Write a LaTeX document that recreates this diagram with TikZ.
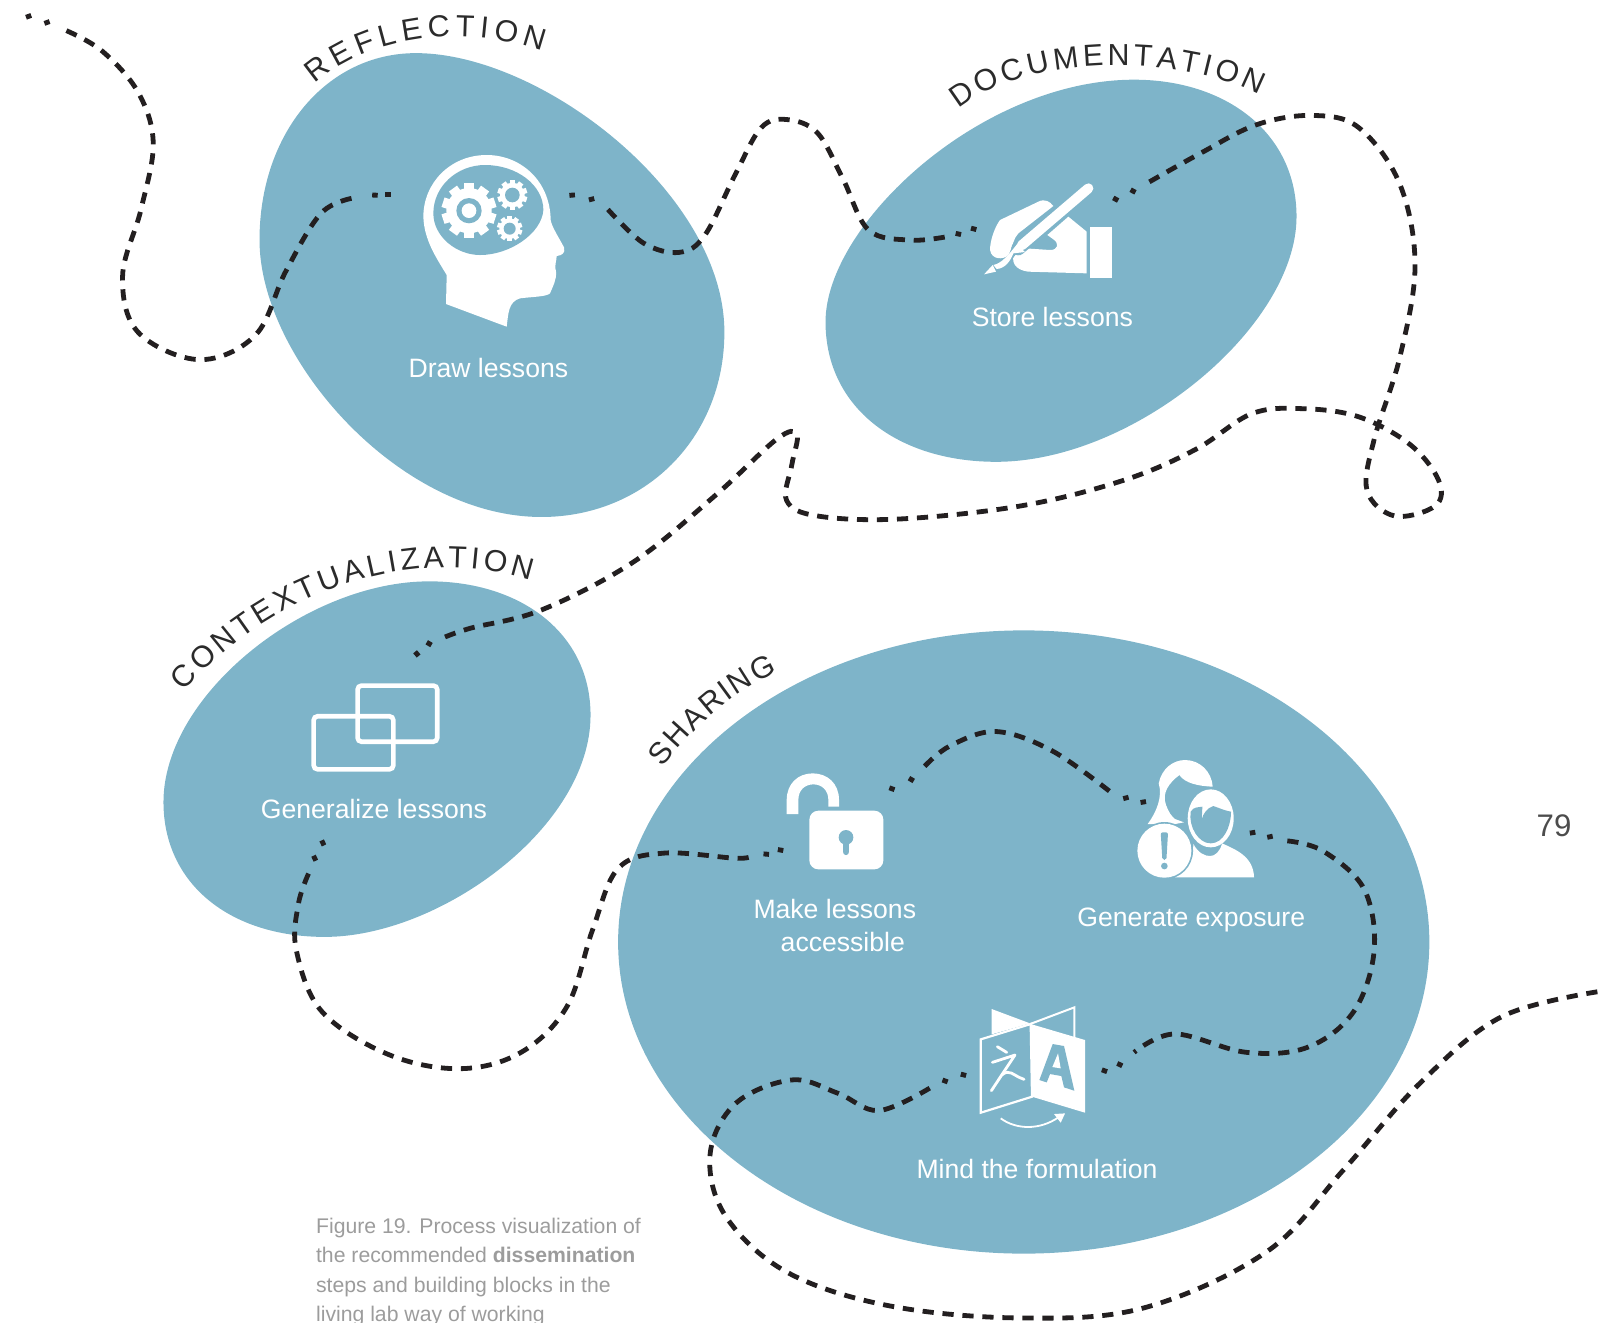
\documentclass[tikz,border=0pt]{standalone}
\usepackage{fontspec}
\setmainfont{Liberation Sans}
\usetikzlibrary{decorations.text,arrows.meta}
\definecolor{blobc}{HTML}{7EB4C9}
\definecolor{inkc}{HTML}{231F20}
\definecolor{capc}{HTML}{9C9C9C}
\definecolor{titlec}{HTML}{2B2B2B}
\newcommand\dotm[3]{\fill[inkc,shift={(#1,#2)},rotate=#3](-2.7,-2.4) rectangle (2.7,2.4);}
\newcommand\gearm[5]{%
 \foreach \a in {0,#5,...,179}{\fill[white,shift={(#1,#2)},rotate=\a](-#4,-#3) rectangle (#4,#3);}%
}
\newcommand\titlef{\fontsize{15.2pt}{18pt}\selectfont}
\tikzset{
 blob/.style={fill=blobc,draw=none},
 trail/.style={draw=inkc,line width=2.4pt,dash pattern=on 5.6pt off 4.4pt,smooth,tension=.6},
 lbl/.style={text=white,font=\fontsize{13.3pt}{16.3pt}\selectfont,align=center,inner sep=0pt},
 captext/.style={text=capc,font=\fontsize{10.6pt}{13pt}\selectfont,anchor=base west,inner sep=0pt},
 arctitle/.style={decorate,decoration={text along path,text={|\titlef\color{titlec}|#1},text align={fit to path}}},
 iconzoom/.style={x=0.16667pt,y=-0.16667pt},
}
\begin{document}
\begin{tikzpicture}[x=0.51084pt,y=-0.51084pt]
\useasboundingbox (0,0) rectangle (1568,1294);
% blobs
\fill[blob] (254,235) .. controls (254,130) and (320,52) .. (407,52) .. controls (530,52) and (709,190) .. (709,325) .. controls (709,430) and (630,506) .. (530,506) .. controls (390,506) and (254,350) .. (254,235) -- cycle;
\fill[blob] (808,315) .. controls (808,220) and (960,78) .. (1110,78) .. controls (1200,78) and (1269,130) .. (1269,212) .. controls (1269,320) and (1110,452) .. (975,452) .. controls (880,452) and (808,400) .. (808,315) -- cycle;
\fill[blob] (160,785) .. controls (160,680) and (300,569) .. (420,569) .. controls (510,569) and (578,620) .. (578,700) .. controls (578,810) and (430,917) .. (318,917) .. controls (225,917) and (160,865) .. (160,785) -- cycle;
\fill[blob] (1002,922) ellipse [x radius=397,y radius=305];

% head icon
\begin{scope}[shift={(200pt,-65pt)},iconzoom]
\fill[white] (138,522) -- (320,590) .. controls (325,550) and (325,515) .. (360,505) .. controls (400,500) and (440,500) .. (450,490) .. controls (458,470) and (470,450) .. (468,425) .. controls (462,410) and (470,390) .. (470,378) .. controls (485,376) and (497,370) .. (492,352) .. controls (475,320) and (455,290) .. (452,270) .. controls (450,150) and (360,75) .. (260,75) .. controls (150,75) and (70,160) .. (70,260) .. controls (72,330) and (110,385) .. (140,435) -- cycle;
\fill[blobc] (100,250) .. controls (100,170) and (170,105) .. (255,105) .. controls (350,105) and (430,165) .. (430,240) .. controls (425,310) and (330,375) .. (240,375) .. controls (170,375) and (100,320) .. (100,250) -- cycle;
\gearm{207}{242}{82}{15}{36}
\fill[white] (207,242) circle (68);
\fill[blobc] (207,242) circle (38);
\fill[white] (207,242) circle (22);
\gearm{337}{195}{45}{8}{36}
\fill[white] (337,195) circle (37);
\fill[blobc] (337,195) circle (22);
\gearm{329}{296}{38}{7}{36}
\fill[white] (329,296) circle (31);
\fill[blobc] (329,296) circle (18);
\end{scope}

% writing hand icon
\begin{scope}[shift={(480pt,-85pt)},iconzoom]
\fill[white] (120,150) -- (235,95) .. controls (255,85) and (270,95) .. (280,108) -- (175,190) .. controls (160,205) and (160,225) .. (145,255) .. controls (130,270) and (95,270) .. (90,240) .. controls (90,210) and (105,170) .. (120,150) -- cycle;
\fill[white] (325,140) -- (380,185) -- (380,310) -- (205,305) .. controls (165,300) and (150,275) .. (165,245) .. controls (172,235) and (180,232) .. (195,235) -- (270,240) .. controls (295,240) and (298,220) .. (280,208) -- (262,195) -- cycle;
\fill[white] (390,170) rectangle (455,323);
\draw[blobc,line width=7pt,line cap=round] (385,55) -- (175,235);
\draw[blobc,line width=2.6pt,line cap=round] (175,235) .. controls (150,255) and (150,275) .. (120,285);
\draw[white,line width=5pt,line cap=round] (385,55) -- (185,226);
\fill[white] (170,224) -- (195,246) -- (160,250) .. controls (150,275) and (135,295) .. (110,297) -- (100,285) .. controls (125,280) and (145,255) .. (170,224) -- cycle;
\fill[white] (98,285) -- (72,313) -- (108,305) -- cycle;
\end{scope}

% overlapping rectangles icon
\begin{scope}[white,line width=2.3pt,rounded corners=2pt]
\draw (350,671) rectangle (428,726);
\draw (307,701) rectangle (385,753);
\end{scope}

% lock and people icons
\begin{scope}[shift={(385pt,-375pt)},iconzoom]
\fill[white] (50,192) -- (50,150) .. controls (50,100) and (85,70) .. (128,70) .. controls (172,70) and (207,100) .. (207,150) -- (207,170) -- (175,170) -- (175,150) .. controls (175,120) and (155,103) .. (130,103) .. controls (105,103) and (85,120) .. (85,150) -- (85,192) -- cycle;
\fill[white,rounded corners=4.5pt] (118,182) rectangle (340,358);
\fill[blobc] (228,262) circle (22);
\draw[blobc,line width=3.4pt,line cap=round] (228,265) -- (228,305);
% woman
\fill[white] (1133,222) .. controls (1160,185) and (1178,140) .. (1166,100) .. controls (1175,55) and (1210,30) .. (1245,30) .. controls (1290,30) and (1325,65) .. (1328,110) .. controls (1285,108) and (1245,100) .. (1228,75) .. controls (1195,100) and (1175,130) .. (1188,165) .. controls (1195,185) and (1205,200) .. (1215,207) -- (1242,217) -- (1215,222) -- cycle;
% man
\fill[blobc] (1322,205) ellipse [x radius=74,y radius=92];
\fill[white] (1322,205) ellipse [x radius=69,y radius=87];
\fill[blobc] (1262,185) .. controls (1270,170) and (1285,172) .. (1297,170) -- (1295,208) .. controls (1300,190) and (1310,175) .. (1330,168) .. controls (1350,175) and (1365,182) .. (1383,185) .. controls (1383,230) and (1360,280) .. (1322,280) .. controls (1285,280) and (1255,230) .. (1262,185) -- cycle;
\fill[white] (1215,382) .. controls (1240,365) and (1268,350) .. (1270,282) .. controls (1285,310) and (1305,318) .. (1320,318) .. controls (1335,318) and (1350,305) .. (1356,280) .. controls (1400,300) and (1450,320) .. (1452,382) -- cycle;
% alert
\fill[blobc] (1183,302) circle (86);
\fill[white] (1183,302) circle (81);
\fill[blobc,rounded corners=1pt] (1172,247) -- (1194,247) -- (1189,330) -- (1177,330) -- cycle;
\fill[blobc] (1183,348) circle (10);
\end{scope}

% book icon
\begin{scope}[shift={(480pt,-500pt)},iconzoom]
\fill[white] (95,27) -- (210,70) -- (95,103) -- cycle;
\draw[white,line width=1pt] (210,72) -- (343,22) -- (343,112);
\draw[white,line width=1.1pt,line join=miter] (62,118) -- (212,72) -- (216,290) -- (62,338) -- cycle;
\fill[white] (212,72) -- (375,120) -- (375,338) -- (216,290) -- cycle;
\fill[blobc] (238,240) -- (278,132) -- (312,138) -- (343,272) -- (312,262) -- (304,228) -- (270,222) -- (260,247) -- cycle;
\fill[white] (294,160) -- (302,205) -- (277,201) -- cycle;
\draw[white,line width=1.4pt,line cap=round] (112,140) -- (140,157);
\draw[white,line width=1.4pt,line cap=round,line join=round] (97,187) -- (165,165) -- (125,225) -- (94,272);
\draw[white,line width=1.4pt,line cap=round] (125,225) .. controls (150,205) and (155,225) .. (192,238);
\draw[white,line width=.9pt] (122,355) .. controls (170,390) and (240,390) .. (295,352);
\fill[white] (282,342) -- (315,340) -- (302,368) -- cycle;
\end{scope}

% dashed trail
\draw[trail] plot coordinates {(65,30) (100,50) (135,90) (150,140) (138,205) (120,270) (135,325) (195,352) (250,328) (280,265) (315,208) (350,193)};
\dotm{28}{16}{20}\dotm{46}{22}{20}\dotm{367}{191}{-3}\dotm{380}{190}{0}

\draw[trail] plot coordinates {(595,205) (630,238) (665,247) (690,230) (720,170) (745,125) (770,117) (800,130) (825,175) (850,225) (890,235) (925,232)};
\dotm{560}{191}{5}\dotm{579}{195}{15}\dotm{938}{229}{-12}\dotm{953}{224}{-15}

\draw[trail] plot coordinates {(1125,178) (1175,150) (1230,122) (1285,113) (1330,125) (1370,180) (1385,260) (1370,350) (1345,430) (1338,480) (1365,505) (1405,495) (1408,470) (1380,435) (1330,408) (1275,400) (1225,405) (1170,440) (1100,470) (1000,495) (880,508) (800,505) (770,490) (775,455) (780,425) (760,430) (700,485) (620,550) (530,597) (460,615) (432,625)};
\dotm{1092}{195}{-28}\dotm{1109}{187}{-28}\dotm{420}{630}{-30}\dotm{408}{640}{-50}

\draw[trail] plot coordinates {(302,855) (292,885) (290,930) (315,990) (380,1032) (450,1046) (510,1030) (555,985) (580,910) (605,850) (650,835) (720,840) (735,838)};
\dotm{316}{825}{-65}\dotm{308}{840}{-65}\dotm{750}{836}{-5}\dotm{764}{832}{-10}

\draw[trail] plot coordinates {(905,750) (930,730) (975,716) (1030,735) (1088,776)};
\dotm{873}{772}{-20}\dotm{892}{763}{-30}\dotm{1102}{781}{15}\dotm{1119}{785}{10}

\draw[trail] plot coordinates {(1260,823) (1295,833) (1335,870) (1345,930) (1325,990) (1280,1025) (1220,1030) (1150,1012) (1110,1030)};
\dotm{1226}{815}{10}\dotm{1243}{819}{12}\dotm{1096}{1042}{-25}\dotm{1081}{1048}{-20}

\draw[trail] plot coordinates {(910,1065) (860,1087) (820,1070) (775,1057) (720,1080) (695,1130) (710,1190) (770,1245) (870,1278) (1000,1290) (1120,1280) (1240,1225) (1315,1145) (1390,1060) (1470,995) (1568,970)};
\dotm{943}{1052}{-15}\dotm{925}{1058}{-20}

% arc titles
\path[arctitle=REFLECTION] (308,82) .. controls (365,32) and (460,25) .. (531,50);
\path[arctitle=DOCUMENTATION] (938,107) .. controls (1000,55) and (1150,50) .. (1233,93);
\path[arctitle=CONTEXTUALIZATION] (180,677) .. controls (262,582) and (400,530) .. (519,568);
\path[arctitle=SHARING] (649,751) .. controls (684,705) and (722,675) .. (761,658);

% labels
\node[lbl] (draw) at (478,360) {Draw lessons};
\node[lbl] (store) at (1030,310) {Store lessons};
\node[lbl] (gen) at (366,792) {Generalize lessons};
\node[lbl] (acc) at (821,906) {Make lessons\hspace*{4pt}\\ \hspace*{4pt}accessible};
\node[lbl] (exp) at (1166,900) {Generate exposure};
\node[lbl] (form) at (1015,1144) {Mind the formulation};
\node[text=black!70,font=\fontsize{15.6pt}{18pt}\selectfont,inner sep=0pt] (pg) at (1521,808) {79};
\node[captext] (c1) at (309,1207) {Figure 19. Process visualization of};
\node[captext] (c2) at (309,1236) {the recommended \textbf{dissemination}};
\node[captext] (c3) at (309,1265) {steps and building blocks in the};
\node[captext] (c4) at (309,1293) {living lab way of working};
\end{tikzpicture}
\end{document}
